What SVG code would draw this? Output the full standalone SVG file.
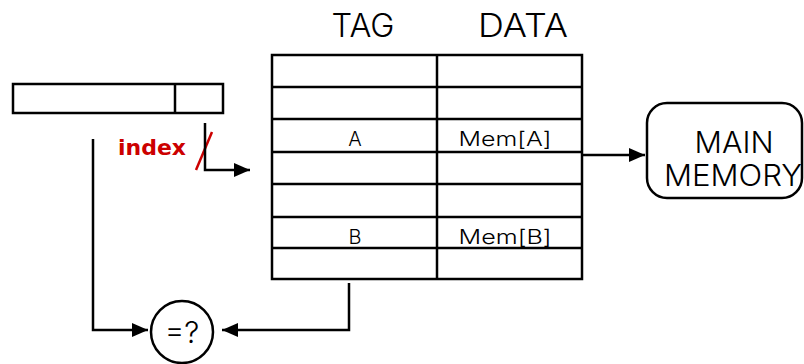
<svg xmlns="http://www.w3.org/2000/svg" width="804" height="364" viewBox="0 0 804 364">
<style>
.box{fill:#fff;stroke:#000;stroke-width:2.5}
.ln{fill:none;stroke:#000;stroke-width:2.5}
.t{font-family:Inter,"Open Sans","DejaVu Sans",sans-serif;font-weight:300;fill:#000;text-anchor:middle}
</style>
<defs>
<marker id="ahl" markerWidth="16" markerHeight="14" refX="16" refY="7" orient="auto" markerUnits="userSpaceOnUse" viewBox="0 0 16 14">
<path d="M0,0 L16,7 L0,14 z" fill="#000"/>
</marker>
</defs>
<g id="address">
<rect class="box" x="13" y="84" width="210" height="29"/>
<line class="ln" x1="175" y1="84" x2="175" y2="113"/>
</g>
<g id="cache">
<text class="t" x="363" y="37" font-size="32" textLength="63" lengthAdjust="spacingAndGlyphs">TAG</text>
<text class="t" x="523" y="37" font-size="32" textLength="90" lengthAdjust="spacingAndGlyphs">DATA</text>
<rect class="box" x="272" y="55" width="310" height="224"/>
<g class="ln">
<line x1="272" y1="87" x2="582" y2="87"/>
<line x1="272" y1="119" x2="582" y2="119"/>
<line x1="272" y1="152" x2="582" y2="152"/>
<line x1="272" y1="184" x2="582" y2="184"/>
<line x1="272" y1="217" x2="582" y2="217"/>
<line x1="272" y1="248" x2="582" y2="248"/>
<line x1="437" y1="55" x2="437" y2="279"/>
</g>
<text class="t" x="355" y="146" font-size="20">A</text>
<text class="t" x="505" y="146" font-size="20" textLength="93" lengthAdjust="spacingAndGlyphs">Mem[A]</text>
<text class="t" x="355" y="244" font-size="20">B</text>
<text class="t" x="505" y="244" font-size="20" textLength="93" lengthAdjust="spacingAndGlyphs">Mem[B]</text>
</g>
<g id="main-memory">
<rect class="box" x="647" y="103" width="155" height="95" rx="20"/>
<text class="t" x="734" y="153" font-size="30" textLength="79" lengthAdjust="spacingAndGlyphs">MAIN</text>
<text class="t" x="733" y="186" font-size="30" textLength="138" lengthAdjust="spacingAndGlyphs">MEMORY</text>
</g>
<g id="compare">
<circle class="box" cx="182" cy="332" r="31"/>
<text class="t" x="182" y="343" font-size="30">=?</text>
</g>
<g id="index-label">
<text x="152" y="155" font-family="'DejaVu Sans','Liberation Sans',sans-serif" font-size="22" font-weight="bold" fill="#cc0000" text-anchor="middle" textLength="68" lengthAdjust="spacingAndGlyphs">index</text>
<line x1="212" y1="132" x2="196" y2="170" stroke="#cc0000" stroke-width="2.5"/>
</g>
<g id="connectors">
<polyline class="ln" points="205,123 205,170 250,170" marker-end="url(#ahl)"/>
<polyline class="ln" points="582,155 645,155" marker-end="url(#ahl)"/>
<polyline class="ln" points="93,139 93,330 148,330" marker-end="url(#ahl)"/>
<polyline class="ln" points="349,283 349,330 222,330" marker-end="url(#ahl)"/>
</g>
</svg>
